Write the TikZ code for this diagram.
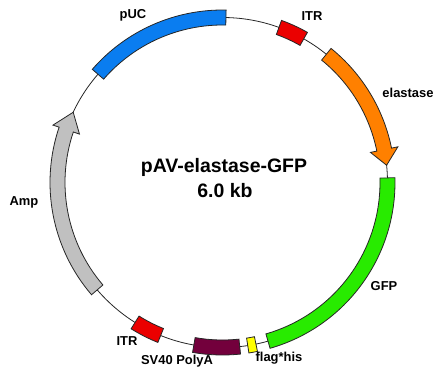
\documentclass[tikz,border=0pt]{standalone}
\usepackage{fontspec}
\setmainfont{Liberation Sans}
\definecolor{cpuc}{RGB}{10,125,240}
\definecolor{citr}{RGB}{235,0,0}
\definecolor{cela}{RGB}{255,128,0}
\definecolor{cgfp}{RGB}{40,235,0}
\definecolor{cflag}{RGB}{255,255,0}
\definecolor{csv}{RGB}{115,0,60}
\definecolor{camp}{RGB}{192,192,192}
\newcommand\featbox[3]{%
  \filldraw[feat, fill=#3] (#1:\ri) arc[start angle=#1,end angle=#2,radius=\ri]
    -- (#2:\ro) arc[start angle=#2,end angle=#1,radius=\ro] -- cycle;}
\newcommand\featarrow[4]{%
  \filldraw[feat, fill=#4] (#1:\ri) arc[start angle=#1,end angle=#2,radius=\ri]
    -- (#2:\rhi) -- (#3:\R) -- (#2:\rho)
    -- (#2:\ro) arc[start angle=#2,end angle=#1,radius=\ro] -- cycle;}
\begin{document}
\begin{tikzpicture}[x=0.75pt,y=0.75pt,
  feat/.style={draw=black!85, line width=0.6pt},
  lbl/.style={font=\bfseries\fontsize{9.7}{11}\selectfont, inner sep=0pt},
  ttl/.style={font=\bfseries\fontsize{14.6}{17}\selectfont, inner sep=0pt}]
\useasboundingbox (0,0) rectangle (444,379);
\def\R{165}\def\ri{157.5}\def\ro{172.5}\def\rhi{151}\def\rho{179}
\coordinate (c) at (222.5,196.5);
\begin{scope}[shift={(c)}]
  \draw[line width=0.6pt, black!85] (0,0) circle[radius=\R];
  \featbox{88.8}{139}{cpuc}
  \featbox{60.5}{70}{citr}
  \featarrow{51}{11.5}{6}{cela}
  \featbox{-74}{1.6}{cgfp}
  \featbox{-81.2}{-78.3}{cflag}
  \featbox{-100}{-84}{csv}
  \featbox{-122}{-112}{citr}
  \featarrow{220.6}{161.3}{154.8}{camp}
\end{scope}
\node[lbl] (lpuc) at (133,364) {pUC};
\node[lbl] (litr1) at (312,363) {ITR};
\node[lbl] (lela) at (408,286) {elastase};
\node[lbl] (lamp) at (24,177) {Amp};
\node[lbl] (lgfp) at (384,93) {GFP};
\node[lbl] (litr2) at (127,38) {ITR};
\node[lbl] (lsv) at (177,18) {SV40 PolyA};
\node[lbl] (lflag) at (279,21) {flag*his};
\node[ttl] (t1) at (224,212) {pAV-elastase-GFP};
\node[ttl] (t2) at (225,188) {6.0 kb};
\end{tikzpicture}
\end{document}
